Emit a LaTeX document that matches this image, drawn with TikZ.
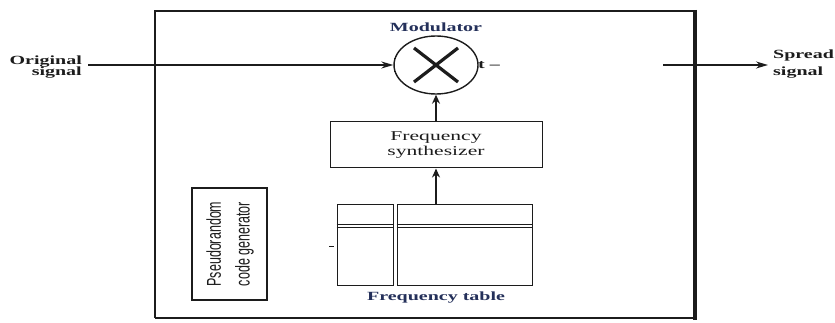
\documentclass[tikz,border=0pt]{standalone}
\usepackage{graphicx}
\usepackage{fontspec}
\setmainfont{Liberation Serif}
\newfontfamily\narrowsans{Liberation Sans}
\usetikzlibrary{arrows.meta,shapes.geometric}

% the drawing is wider than tall in its lettering: widen text by 1.6
\newcommand{\widetext}[1]{\scalebox{1.6}[1]{#1}}
\newcommand{\tallertext}[1]{\scalebox{1}[1.6]{#1}}

\definecolor{ink}{HTML}{1C1C1C}
\definecolor{bluink}{HTML}{24305A}

\begin{document}
\begin{tikzpicture}[x=1pt,y=-1pt,
  lbl/.style={inner sep=0pt, text=ink,
    font=\fontsize{12.5}{10}\selectfont\bfseries},
  sig/.style={line width=1.5pt, draw=ink},
  harrow/.style={sig, -{Stealth[length=12pt,width=7pt]}},
  varrow/.style={sig, -{Stealth[length=9pt,width=8pt]}},
  box/.style={draw=ink, line width=1pt, rectangle, inner sep=0pt},
]
\useasboundingbox (0,0) rectangle (835,323);

% enclosing frame
\draw[ink, line width=1.3pt] (695,11) -- (155,11) -- (155,318);
\draw[ink, line width=2.2pt] (155,318) -- (696,318);
\draw[ink, line width=3.6pt] (695,10) -- (695,320);
\draw[ink, line width=2.6pt] (155,59) -- (155,71);

% modulator
\node[draw=ink, line width=1.4pt, ellipse, minimum width=84pt,
      minimum height=58pt, inner sep=0pt] (mod) at (436,65) {};
\draw[ink, line width=1.4pt] ([xshift=1pt,yshift=-7pt]mod.west) -- ([xshift=1pt,yshift=7pt]mod.west);
\draw[ink, line width=3.2pt] ([xshift=-22pt,yshift=-17pt]mod.center) -- ([xshift=22pt,yshift=17pt]mod.center);
\draw[ink, line width=3.2pt] ([xshift=-22pt,yshift=17pt]mod.center) -- ([xshift=22pt,yshift=-17pt]mod.center);
\node[lbl, text=bluink, anchor=base] (modlabel) at (436,32) {\widetext{Modulator}};
\node[lbl, anchor=base west] (tmark) at (478,69) {\widetext{t –}};

% input and output labels
\node[lbl, anchor=base east] (orig) at (82,76)
  {\widetext{\begin{tabular}[b]{@{}r@{}}Original\\signal\end{tabular}}};
\node[lbl, anchor=base west] (spread) at (773,76)
  {\widetext{\fontsize{12.5}{17}\selectfont\begin{tabular}[b]{@{}l@{}}Spread\\signal\end{tabular}}};

\coordinate (inL) at (88,65);
\coordinate (outA) at (663,65);
\coordinate (outB) at (768,65);
\draw[harrow] (inL) -- (mod.west);
\draw[harrow] (outA) -- (outB);

% frequency synthesizer
\node[box, minimum width=212pt, minimum height=46pt, text=ink,
      font=\fontsize{13.5}{15}\selectfont] (synth) at (436,145)
  {\widetext{\begin{tabular}{@{}c@{}}Frequency\\synthesizer\end{tabular}}};
\draw[ink, line width=1.8pt] (synth.north east) -- (synth.south east);
\draw[varrow] (synth.north) -- (mod.south);

% frequency table
\node[box, minimum width=56pt, minimum height=80pt] (tabL) at (365,245) {};
\node[box, minimum width=135pt, minimum height=80pt] (tabR) at (464.5,245) {};
\foreach \yy in {224,227}{
  \draw[ink, line width=0.9pt] (tabL.west |- 0,\yy) -- (tabL.east |- 0,\yy);
  \draw[ink, line width=0.9pt] (tabR.west |- 0,\yy) -- (tabR.east |- 0,\yy);
}
\draw[ink, line width=0.9pt] (329,246) -- (334,246);
\draw[varrow] (synth.south |- tabR.north) -- (synth.south);
\node[lbl, text=bluink, anchor=base] (tablabel) at (436,300) {\widetext{Frequency table}};

% pseudorandom code generator
\node[box, line width=1.1pt, minimum width=75pt, minimum height=112pt,
      text=ink, font=\narrowsans\fontsize{12.5}{18}\selectfont] (prng) at (229.5,244)
  {\rotatebox{90}{\tallertext{\begin{tabular}{@{}c@{}}Pseudorandom\\code generator\end{tabular}}}};
\draw[ink, line width=1.6pt] (prng.north west) -- (prng.south west);

\end{tikzpicture}
\end{document}
